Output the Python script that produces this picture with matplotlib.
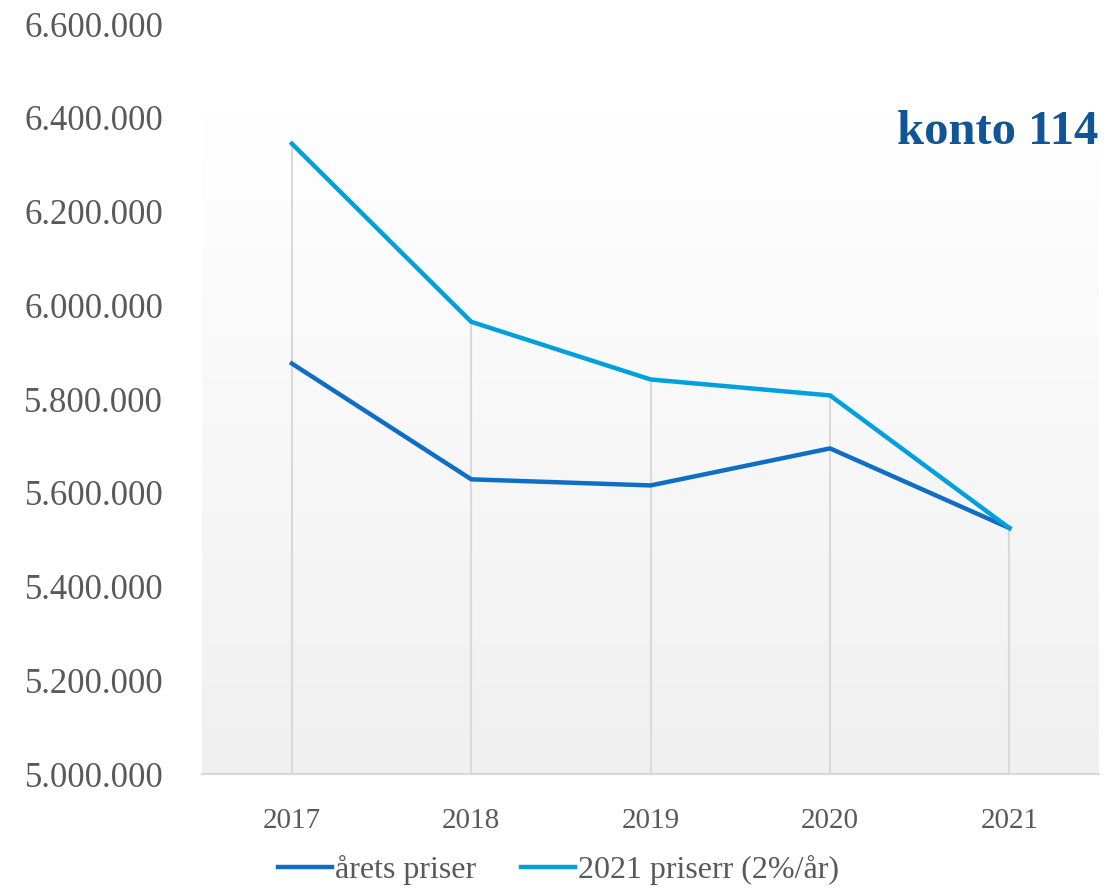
import matplotlib.pyplot as plt
import numpy as np

years = ['2017', '2018', '2019', '2020', '2021']
arets_priser = [5876000, 5629000, 5616000, 5695000, 5525000]
priser_2021 = [6345000, 5965000, 5842000, 5808000, 5525000]

plt.rcParams['font.family'] = ['Liberation Serif', 'DejaVu Serif']

fig = plt.figure(figsize=(11.17, 8.94), dpi=100)
ax = fig.add_axes([0.181, 0.134, 0.803, 0.839])

x = np.arange(len(years))
ax.set_xlim(-0.5, 4.5)
ax.set_ylim(5000000, 6600000)

# gradient background of the plot area
grad = np.linspace(0, 1, 256).reshape(-1, 1)
ax.imshow(grad, cmap=plt.matplotlib.colors.LinearSegmentedColormap.from_list('g', ['#f0f0f0', '#ffffff']),
          extent=[0, 1, 0, 0.876], transform=ax.transAxes, aspect='auto', origin='lower', zorder=0)

# drop lines
top = np.maximum(arets_priser, priser_2021)
ax.vlines(x, 5000000, top, color='#d9d9d9', lw=1.5, zorder=1)

ax.plot(x, arets_priser, color='#0e6ec5', lw=3.2, label='årets priser', zorder=3)
ax.plot(x, priser_2021, color='#00a0dc', lw=3.2, label='2021 priserr (2%/år)', zorder=3)

ax.set_xticks(x)
ax.set_xticklabels(years)
yt = np.arange(5000000, 6600001, 200000)
ax.set_yticks(yt)
ax.set_yticklabels([f'{v:,}'.replace(',', '.') for v in yt])
ax.tick_params(axis='both', length=0, colors='#595959')
ax.tick_params(axis='y', labelsize=25, pad=28)
ax.tick_params(axis='x', labelsize=21, pad=24)
for s in ['top', 'right', 'left']:
    ax.spines[s].set_visible(False)
ax.spines['bottom'].set_color('#d9d9d9')
ax.spines['bottom'].set_linewidth(1.5)
ax.patch.set_alpha(0)

ax.text(0.999, 0.84, 'konto 114', transform=ax.transAxes, ha='right', va='baseline',
        fontsize=35, fontweight='bold', color='#0f5597')

fig.legend(loc='lower center', bbox_to_anchor=(0.5, -0.022), ncol=2, frameon=False,
           fontsize=23, handlelength=1.7, handletextpad=0.1, columnspacing=1.4, labelcolor='#595959')

fig.savefig('out.png', dpi=100)
